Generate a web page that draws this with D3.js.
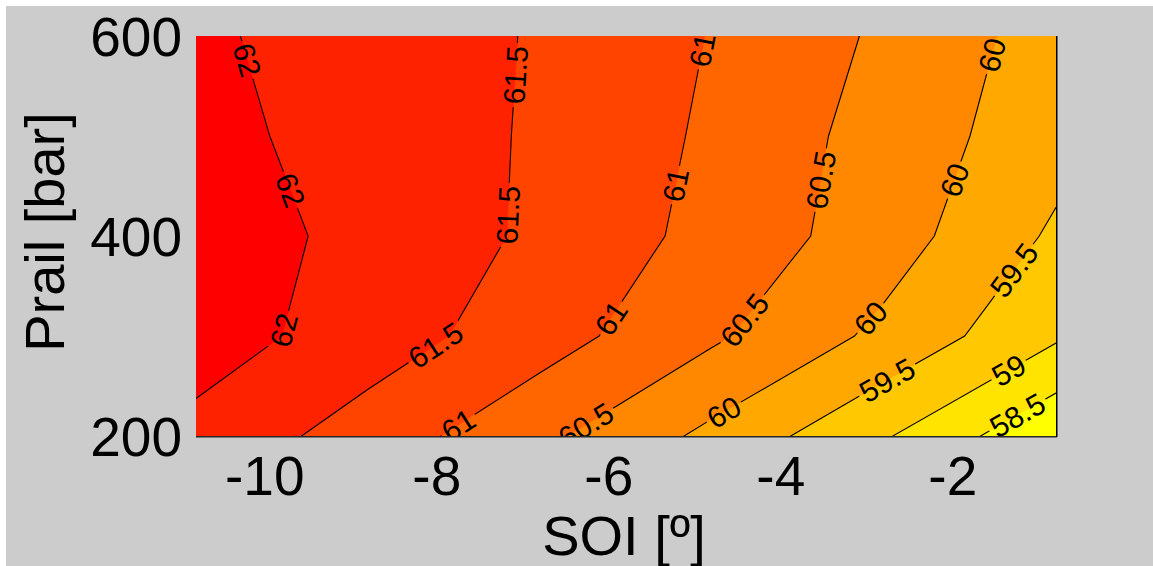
<!DOCTYPE html>
<html><head><meta charset="utf-8">
<script src="https://cdn.jsdelivr.net/npm/d3@7"></script>
<style>
body{margin:0;background:#ffffff;}
svg{display:block;font-family:"Liberation Sans",Arial,Helvetica,sans-serif;}
</style>
</head><body>
<svg id="chart" width="1153" height="566"></svg>
<script>
// ---------------- data ----------------
const soi   = [-10.8, -8.8, -6.8, -4.8, -2.8, -0.8];
const prail = [200, 300, 400, 500, 600];
const z200 = [61.85, 61.28, 60.62, 59.88, 59.05, 58.07];
const z300 = [62.25, 61.75, 61.22, 60.58, 59.88, 59.07];
const z400 = [62.15, 61.92, 61.40, 60.85, 60.24, 59.42];
const z500 = [62.15, 61.80, 61.44, 60.92, 60.30, 59.70];
const z600 = [62.08, 61.77, 61.46, 60.98, 60.42, 59.78];
const levels = [58.5, 59, 59.5, 60, 60.5, 61, 61.5, 62];
const bandColors = ["#ffff00", "#ffe400", "#ffc800", "#ffa800", "#ff8800", "#ff6600", "#ff4400", "#ff2200", "#ff0000"];
const xTicks = [-10, -8, -6, -4, -2];
const yTicks = [200, 400, 600];
const xTitle = "SOI [º]";
const yTitle = "Prail [bar]";
// contour label anchors: level and Prail value where the label sits on the line
const labelLevels = [62, 62, 62, 61.5, 61.5, 61.5, 61, 61, 61, 61, 60.5, 60.5, 60.5, 60, 60, 60, 60, 59.5, 59.5, 59, 58.5];
const labelPrail  = [576, 446, 306, 561, 421, 291, 586, 451, 318, 211, 456, 316, 211, 581, 456, 318, 224, 366, 256, 266, 221];

// ---------------- layout ----------------
const W = 1153, H = 566;
const L = 196, R = 1056, T = 36, B = 436;
const svg = d3.select("#chart");

svg.append("rect").attr("width", W).attr("height", H).attr("fill", "#ffffff");
svg.append("rect").attr("x", 6).attr("y", 6).attr("width", W - 6).attr("height", H - 6).attr("fill", "#cccccc");

const x = d3.scaleLinear().domain([soi[0], soi[soi.length - 1]]).range([L, R]);
const y = d3.scaleLinear().domain([prail[0], prail[prail.length - 1]]).range([B, T]);

const defs = svg.append("defs");
defs.append("clipPath").attr("id", "plotclip")
  .append("rect").attr("x", L).attr("y", T).attr("width", R - L).attr("height", B - T);

// grid values (row-major, rows = prail)
const rows = [z200, z300, z400, z500, z600];
const nx = soi.length, ny = prail.length;
const values = [];
rows.forEach(r => r.forEach(v => values.push(v)));
const stepX = (soi[nx - 1] - soi[0]) / (nx - 1);
const stepY = (prail[ny - 1] - prail[0]) / (ny - 1);

function tr(p) {
  return [x(soi[0] + (p[0] - 0.5) * stepX), y(prail[0] + (p[1] - 0.5) * stepY)];
}
const path = d3.geoPath(d3.geoTransform({
  point: function(px, py) { const q = tr([px, py]); this.stream.point(q[0], q[1]); }
}));

const contours = d3.contours().size([nx, ny]).thresholds(levels)(values);

// ---------------- filled bands ----------------
const gFill = svg.append("g").attr("clip-path", "url(#plotclip)");
gFill.append("rect").attr("x", x.range()[0]).attr("y", y.range()[1])
  .attr("width", x.range()[1] - x.range()[0]).attr("height", y.range()[0] - y.range()[1])
  .attr("fill", bandColors[0]);
gFill.selectAll("path.band").data(contours).join("path")
  .attr("class", "band")
  .attr("d", path)
  .attr("fill", (d, i) => bandColors[i + 1])
  .attr("stroke", (d, i) => bandColors[i + 1])
  .attr("stroke-width", 0.5);

// ---------------- label positions ----------------
function findPoint(geom, P) {
  const yy = y(P);
  for (const poly of geom.coordinates) for (const ring of poly) {
    for (let i = 0; i < ring.length - 1; i++) {
      const a = tr(ring[i]), b = tr(ring[i + 1]);
      if ((a[1] - yy) * (b[1] - yy) <= 0 && a[1] !== b[1]) {
        const t = (yy - a[1]) / (b[1] - a[1]);
        const px = a[0] + t * (b[0] - a[0]);
        if (px > L + 1 && px < R - 1) {
          let ang = Math.atan2(b[1] - a[1], b[0] - a[0]) * 180 / Math.PI;
          if (ang >= 90) ang -= 180;
          if (ang < -90) ang += 180;
          return { x: px, y: yy, ang: ang };
        }
      }
    }
  }
  return null;
}
const labels = [];
labelLevels.forEach((lv, i) => {
  const c = contours[levels.indexOf(lv)];
  const p = findPoint(c, labelPrail[i]);
  if (p) labels.push({ level: lv, x: p.x, y: p.y, ang: p.ang });
});

// ---------------- contour lines (broken under labels) ----------------
const mask = defs.append("mask").attr("id", "lblmask")
  .attr("maskUnits", "userSpaceOnUse").attr("x", 0).attr("y", 0).attr("width", W).attr("height", H);
mask.append("rect").attr("width", W).attr("height", H).attr("fill", "white");

const gLbl = svg.append("g").attr("clip-path", "url(#plotclip)");
const fs = 30;
gLbl.selectAll("text").data(labels).join("text")
  .attr("transform", d => `translate(${d.x},${d.y}) rotate(${d.ang})`)
  .attr("text-anchor", "middle")
  .attr("dy", "0.36em")
  .attr("font-size", fs)
  .attr("fill", "#000")
  .text(d => String(d.level))
  .each(function(d) { d.len = this.getComputedTextLength(); });

labels.forEach(d => {
  mask.append("rect")
    .attr("x", -d.len / 2 - 3).attr("y", -fs * 0.42).attr("width", d.len + 6).attr("height", fs * 0.84)
    .attr("transform", `translate(${d.x},${d.y}) rotate(${d.ang})`)
    .attr("fill", "black");
});

const gLine = svg.insert("g", () => gLbl.node()).attr("clip-path", "url(#plotclip)");
gLine.append("g").attr("mask", "url(#lblmask)")
  .selectAll("path").data(contours).join("path")
  .attr("d", path)
  .attr("fill", "none")
  .attr("stroke", "#000")
  .attr("stroke-width", 1.1);

// ---------------- axes ----------------
svg.append("line").attr("x1", L).attr("x2", R + 1).attr("y1", B + 0.75).attr("y2", B + 0.75)
  .attr("stroke", "#262626").attr("stroke-width", 1.5);
svg.append("line").attr("x1", R + 0.75).attr("x2", R + 0.75).attr("y1", T).attr("y2", B + 1)
  .attr("stroke", "#000").attr("stroke-width", 1.5);

svg.append("g").selectAll("text").data(xTicks).join("text")
  .attr("x", d => x(d)).attr("y", B + 59)
  .attr("text-anchor", "middle").attr("font-size", 55).attr("fill", "#000")
  .text(d => String(d));

svg.append("g").selectAll("text").data(yTicks).join("text")
  .attr("x", L - 14).attr("y", d => y(d) + 20)
  .attr("text-anchor", "end").attr("font-size", 55).attr("fill", "#000")
  .text(d => String(d));

svg.append("text").attr("x", (L + R) / 2 - 2).attr("y", 555)
  .attr("text-anchor", "middle").attr("font-size", 56).attr("fill", "#000")
  .text(xTitle);

svg.append("text").attr("transform", `translate(64,${(T + B) / 2 - 4}) rotate(-90)`)
  .attr("text-anchor", "middle").attr("font-size", 56).attr("fill", "#000")
  .text(yTitle);
</script>
</body></html>
